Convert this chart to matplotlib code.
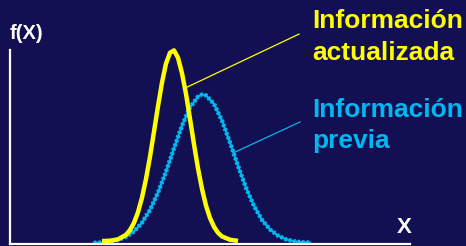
import matplotlib
matplotlib.use("Agg")
from matplotlib import pyplot as plt

# updated information (yellow curve)
x_upd = [2.3, 2.5, 2.7, 2.9, 3.0, 3.1, 3.2, 3.3, 3.4, 3.5, 3.6, 3.7, 3.8, 3.9, 4.0,
         4.1, 4.2, 4.3, 4.4, 4.5, 4.6, 4.7, 4.8, 4.9, 5.0, 5.1, 5.2, 5.3, 5.5, 5.7]
f_upd = [0.015, 0.017, 0.024, 0.047, 0.072, 0.109, 0.164, 0.239, 0.335, 0.45, 0.579,
         0.71, 0.832, 0.93, 0.986, 0.998, 0.96, 0.88, 0.774, 0.645, 0.514, 0.39,
         0.284, 0.198, 0.134, 0.089, 0.058, 0.039, 0.022, 0.016]

# prior information (blue curve)
x_prior = [2.1, 2.3, 2.5, 2.7, 2.9, 3.1, 3.3, 3.5, 3.7, 3.9, 4.1, 4.3, 4.5, 4.7, 4.8,
           4.9, 5.1, 5.3, 5.5, 5.7, 5.9, 6.1, 6.3, 6.5, 6.7, 6.9, 7.1, 7.3, 7.5]
f_prior = [0.006, 0.008, 0.013, 0.021, 0.037, 0.065, 0.110, 0.176, 0.265, 0.373, 0.493,
           0.610, 0.704, 0.760, 0.770, 0.766, 0.722, 0.636, 0.523, 0.403, 0.290, 0.196,
           0.124, 0.075, 0.043, 0.024, 0.014, 0.009, 0.007]

bg = '#120f52'
yellow = '#ffff00'
blue = '#00b8f0'
W, H = 466, 246

fig = plt.figure(figsize=(W/100, H/100), dpi=100, facecolor=bg)
ax = fig.add_axes([10/W, 2/H, 400/W, 194/H])
ax.set_facecolor(bg)
ax.set_xlim(0, 10)
ax.set_ylim(0, 1)

# prior: solid core with a stippled rim
ax.plot(x_prior, f_prior, color=blue, lw=1.6, clip_on=False)
ax.plot(x_prior, f_prior, color=blue, lw=3.2, ls=(0, (0.55, 0.45)), clip_on=False)
ax.plot(x_upd, f_upd, color=yellow, lw=3.2, solid_capstyle='butt', clip_on=False)

# leader lines
ax.plot([4.43, 7.225], [0.809, 1.082], color=yellow, lw=0.9, clip_on=False)
ax.plot([5.575, 7.25], [0.469, 0.629], color=blue, lw=0.9, clip_on=False)

for s in ['top', 'right']:
    ax.spines[s].set_visible(False)
for s in ['left', 'bottom']:
    ax.spines[s].set_color('white')
    ax.spines[s].set_linewidth(1.6)
ax.set_xticks([])
ax.set_yticks([])

font = dict(family=['Liberation Sans', 'DejaVu Sans'], fontweight='bold', va='baseline')
fig.text(312/W, 1 - 28/H, 'Información', color=yellow, fontsize=19, **font)
fig.text(312/W, 1 - 60/H, 'actualizada', color=yellow, fontsize=19, **font)
fig.text(312/W, 1 - 117/H, 'Información', color=blue, fontsize=19, **font)
fig.text(312/W, 1 - 148/H, 'previa', color=blue, fontsize=19, **font)
fig.text(10/W, 1 - 39/H, 'f(X)', color='white', fontsize=14.5, **font)
fig.text(397/W, 1 - 233/H, 'X', color='white', fontsize=16, **font)

fig.savefig('out.png', dpi=100, facecolor=bg)
